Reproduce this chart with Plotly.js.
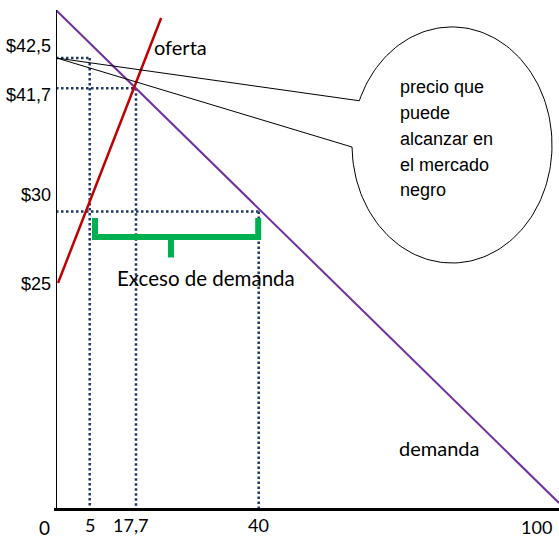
<!DOCTYPE html>
<html>
<head>
<meta charset="utf-8">
<script src="https://cdn.plot.ly/plotly-3.0.1.min.js"></script>
<style>html,body{margin:0;padding:0;background:#fff;}#chart{width:559px;height:540px;}</style>
</head>
<body>
<div id="chart"></div>
<script>
// ---- schematic diagram data (values as drawn on the diagram's axes) ----
const demandQ = [0, 100];
const demandP = [50, 0.8];
const supplyQ = [0.4, 20.9];
const supplyP = [22.75, 49.2];

// guide points: (quantity position, price position)
const guideQ = [6.7, 15.9, 40.3];
const guideP = [45.2, 42.2, 29.9];

// price labels and where they sit on the price axis
const priceLabels = ['$42,5', '$41,7', '$30', '$25'];
const priceLabelY = [46.4, 41.5, 31.5, 22.65];

// quantity labels and where they sit on the quantity axis
const qtyLabels = ['0', '5', '17,7', '40', '100'];
const qtyLabelX = [-2.2, 6.7, 14.9, 40.2, 95.6];
const qtyLabelY = [-1.65, -1.4, -1.4, -1.4, -1.6];

// excess demand bracket (from Q=5 to Q=40 positions)
const bracketX = [7.75, 40.2];
const bracketTop = 29.24, bracketBase = 27.35, bracketStemEnd = 25.3, bracketMid = 22.86;

// callout bubble
const bubbleCenter = [78.73, 36.53];
const bubbleRadii = [19.88, 11.78];
const bubbleGapDeg = [158, 181];
const bubbleOrigin = [0.2, 45.2];
const bubbleLines = ['precio que', 'puede', 'alcanzar en', 'el mercado', 'negro'];
const bubbleTextX = 68.0;
const bubbleTextY = [42.3, 39.72, 37.13, 34.53, 32.0];

const X_RANGE = [0, 100], Y_RANGE = [0, 50];
const px = v => (v - X_RANGE[0]) / (X_RANGE[1] - X_RANGE[0]);
const py = v => (v - Y_RANGE[0]) / (Y_RANGE[1] - Y_RANGE[0]);

// ---- build traces ----
const traces = [];

// dotted guides
const gx = [], gy = [];
guideQ.forEach((q, i) => {
  gx.push(0, q, null, q, q, null);
  gy.push(guideP[i], guideP[i], null, guideP[i], 0.3, null);
});
traces.push({x: gx, y: gy, mode: 'lines', hoverinfo: 'skip',
  line: {color: '#1F3864', width: 2.5, dash: '2.5px,2.5px'}});

// demand
traces.push({x: demandQ, y: demandP, mode: 'lines', hoverinfo: 'skip',
  line: {color: '#7030A0', width: 2}});
// supply
traces.push({x: supplyQ, y: supplyP, mode: 'lines', hoverinfo: 'skip',
  line: {color: '#C00000', width: 2.5}});

// bubble outline with pointer
const bx = [bubbleOrigin[0]], by = [bubbleOrigin[1]];
const a0 = bubbleGapDeg[0], a1 = bubbleGapDeg[1] - 360;
const nSeg = 160;
for (let k = 0; k <= nSeg; k++) {
  const a = (a0 + (a1 - a0) * k / nSeg) * Math.PI / 180;
  bx.push(bubbleCenter[0] + bubbleRadii[0] * Math.cos(a));
  by.push(bubbleCenter[1] + bubbleRadii[1] * Math.sin(a));
}
bx.push(bubbleOrigin[0]); by.push(bubbleOrigin[1]);
traces.push({x: bx, y: by, mode: 'lines', hoverinfo: 'skip',
  line: {color: '#000000', width: 1}});

// excess demand bracket
traces.push({
  x: [bracketX[0], bracketX[0], bracketX[1], bracketX[1], null, bracketMid, bracketMid],
  y: [bracketTop, bracketBase, bracketBase, bracketTop, null, bracketBase, bracketStemEnd],
  mode: 'lines', hoverinfo: 'skip',
  line: {color: '#00B050', width: 6}
});

// ---- annotations ----
const ann = [];
priceLabels.forEach((t, i) => ann.push({
  x: px(-0.5), y: py(priceLabelY[i]), xref: 'paper', yref: 'paper', text: t, showarrow: false,
  xanchor: 'right', yanchor: 'middle',
  font: {family: 'Liberation Sans, Arial, sans-serif', size: 18, color: '#000'}
}));
qtyLabels.forEach((t, i) => ann.push({
  x: px(qtyLabelX[i]), y: py(qtyLabelY[i]), xref: 'paper', yref: 'paper', text: t, showarrow: false,
  xanchor: 'center', yanchor: 'middle',
  font: {family: 'Lato, sans-serif', size: i === 0 ? 19 : 18, color: '#000'}
}));
bubbleLines.forEach((t, i) => ann.push({
  x: bubbleTextX, y: bubbleTextY[i], xref: 'x', yref: 'y', text: t, showarrow: false,
  xanchor: 'left', yanchor: 'middle',
  font: {family: 'Liberation Sans, Arial, sans-serif', size: 18, color: '#000'}
}));
ann.push({x: 19.1, y: 46.3, xref: 'x', yref: 'y', text: 'oferta', showarrow: false,
  xanchor: 'left', yanchor: 'middle', font: {family: 'Lato, sans-serif', size: 20, color: '#000'}});
ann.push({x: 11.8, y: 23.25, xref: 'x', yref: 'y', text: 'Exceso de demanda', showarrow: false,
  xanchor: 'left', yanchor: 'middle', font: {family: 'Lato, sans-serif', size: 20.5, color: '#000'}});
ann.push({x: 67.8, y: 6.29, xref: 'x', yref: 'y', text: 'demanda', showarrow: false,
  xanchor: 'left', yanchor: 'middle', font: {family: 'Lato, sans-serif', size: 20, color: '#000'}});

// ---- axes lines as shapes ----
const shapes = [
  {type: 'line', xref: 'paper', yref: 'y', x0: -0.004, x1: 1, y0: 0.15, y1: 0.15,
   line: {color: '#000', width: 3}},
  {type: 'line', xref: 'x', yref: 'paper', x0: -0.1, x1: -0.1, y0: 0, y1: 1,
   line: {color: '#000', width: 3}}
];

const layout = {
  width: 559, height: 540,
  margin: {l: 56, r: 0, t: 10, b: 29, pad: 0},
  paper_bgcolor: '#ffffff', plot_bgcolor: '#ffffff',
  showlegend: false,
  xaxis: {range: X_RANGE, visible: false, fixedrange: true},
  yaxis: {range: Y_RANGE, visible: false, fixedrange: true},
  annotations: ann,
  shapes: shapes
};

Plotly.newPlot('chart', traces, layout, {displayModeBar: false, staticPlot: true});
</script>
</body>
</html>
